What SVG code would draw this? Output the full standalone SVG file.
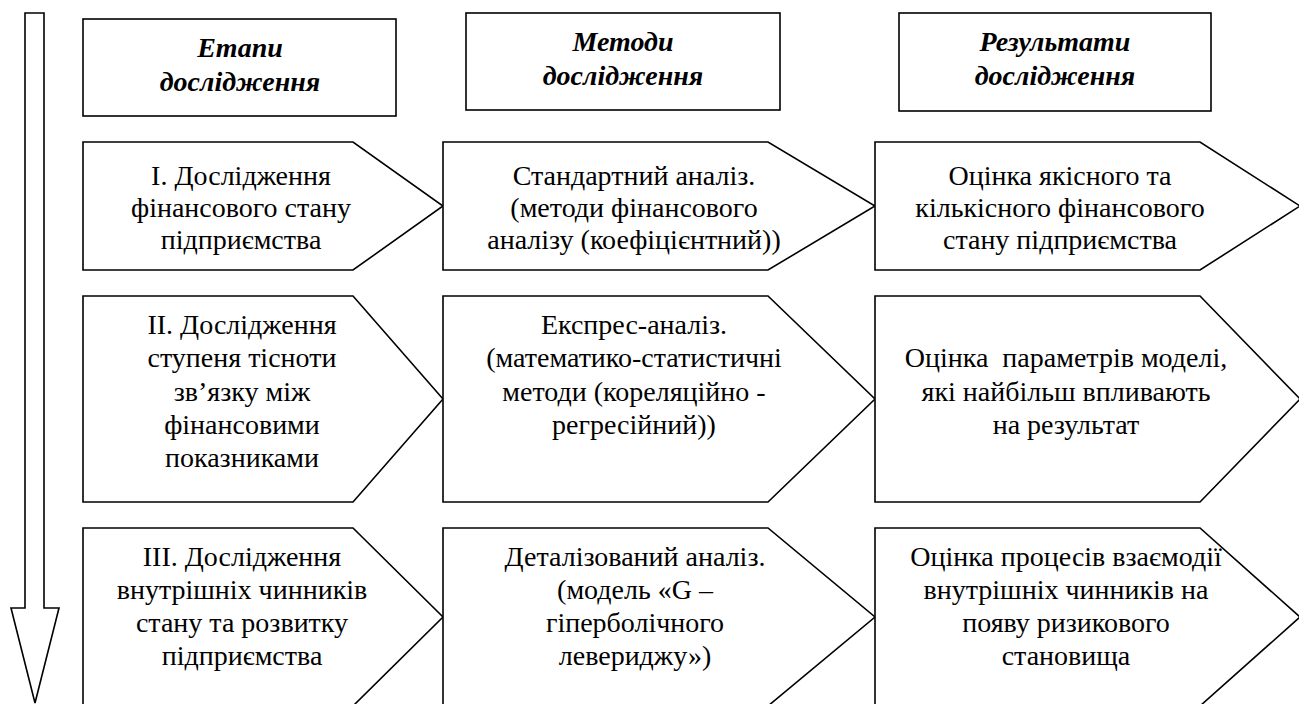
<svg xmlns="http://www.w3.org/2000/svg" width="1299" height="704" viewBox="0 0 1299 704">
  <style>
    .shape { fill: #ffffff; stroke: #000000; stroke-width: 1.6; stroke-linejoin: miter; }
    .head { font-size: 28px; font-weight: bold; font-style: italic; text-anchor: middle; fill: #000; }
    .body { font-size: 28px; text-anchor: middle; fill: #000; }
  </style>
  <rect width="1299" height="704" fill="#ffffff"/>

  <!-- progression arrow down the left side -->
  <g id="connectors">
    <polygon class="shape" points="25,13 44,13 44,608 59,608 35,703 11,608 25,608"/>
  </g>

  <!-- column headers -->
  <g id="hdr-stages">
    <rect class="shape" x="83" y="19" width="313" height="97"/>
    <text class="head" style="font-family:'Liberation Serif', serif" x="240" y="57">Етапи</text>
    <text class="head" style="font-family:'Liberation Serif', serif" x="240" y="91">дослідження</text>
  </g>
  <g id="hdr-methods">
    <rect class="shape" x="466" y="13" width="314" height="97"/>
    <text class="head" style="font-family:'Liberation Serif', serif" x="623" y="51">Методи</text>
    <text class="head" style="font-family:'Liberation Serif', serif" x="623" y="85">дослідження</text>
  </g>
  <g id="hdr-results">
    <rect class="shape" x="899" y="13" width="312" height="98"/>
    <text class="head" style="font-family:'Liberation Serif', serif" x="1055" y="51">Результати</text>
    <text class="head" style="font-family:'Liberation Serif', serif" x="1055" y="85">дослідження</text>
  </g>

  <!-- row I -->
  <g id="stage-1">
    <polygon class="shape" points="83,142 353,142 443,206 353,270 83,270"/>
    <text class="body" style="font-family:'Liberation Serif', serif" x="241" y="185">І. Дослідження</text>
    <text class="body" style="font-family:'Liberation Serif', serif" x="241" y="217">фінансового стану</text>
    <text class="body" style="font-family:'Liberation Serif', serif" x="241" y="249">підприємства</text>
  </g>
  <g id="method-1">
    <polygon class="shape" points="443,142 768,142 875,206 768,270 443,270"/>
    <text class="body" style="font-family:'Liberation Serif', serif" x="634" y="185">Стандартний аналіз.</text>
    <text class="body" style="font-family:'Liberation Serif', serif" x="634" y="217">(методи фінансового</text>
    <text class="body" style="font-family:'Liberation Serif', serif" x="634" y="249">аналізу (коефіцієнтний))</text>
  </g>
  <g id="result-1">
    <polygon class="shape" points="875,142 1200,142 1300,206 1200,270 875,270"/>
    <text class="body" style="font-family:'Liberation Serif', serif" x="1060" y="185">Оцінка якісного та</text>
    <text class="body" style="font-family:'Liberation Serif', serif" x="1060" y="217">кількісного фінансового</text>
    <text class="body" style="font-family:'Liberation Serif', serif" x="1060" y="249">стану підприємства</text>
  </g>

  <!-- row II -->
  <g id="stage-2">
    <polygon class="shape" points="83,296 353,296 443,399 353,502 83,502"/>
    <text class="body" style="font-family:'Liberation Serif', serif" x="242" y="334">ІІ. Дослідження</text>
    <text class="body" style="font-family:'Liberation Serif', serif" x="242" y="367">ступеня тісноти</text>
    <text class="body" style="font-family:'Liberation Serif', serif" x="242" y="401">зв’язку між</text>
    <text class="body" style="font-family:'Liberation Serif', serif" x="242" y="434">фінансовими</text>
    <text class="body" style="font-family:'Liberation Serif', serif" x="242" y="467">показниками</text>
  </g>
  <g id="method-2">
    <polygon class="shape" points="443,296 768,296 875,399 768,502 443,502"/>
    <text class="body" style="font-family:'Liberation Serif', serif" x="634" y="334">Експрес-аналіз.</text>
    <text class="body" style="font-family:'Liberation Serif', serif" x="634" y="367">(математико-статистичні</text>
    <text class="body" style="font-family:'Liberation Serif', serif" x="634" y="401">методи (кореляційно -</text>
    <text class="body" style="font-family:'Liberation Serif', serif" x="634" y="434">регресійний))</text>
  </g>
  <g id="result-2">
    <polygon class="shape" points="875,296 1200,296 1300,399 1200,502 875,502"/>
    <text class="body" style="font-family:'Liberation Serif', serif" x="1066" y="367" xml:space="preserve">Оцінка  параметрів моделі,</text>
    <text class="body" style="font-family:'Liberation Serif', serif" x="1066" y="401">які найбільш впливають</text>
    <text class="body" style="font-family:'Liberation Serif', serif" x="1066" y="434">на результат</text>
  </g>

  <!-- row III -->
  <g id="stage-3">
    <polygon class="shape" points="83,528 353,528 443,617 353,706 83,706"/>
    <text class="body" style="font-family:'Liberation Serif', serif" x="242" y="566">ІІІ. Дослідження</text>
    <text class="body" style="font-family:'Liberation Serif', serif" x="242" y="599">внутрішніх чинників</text>
    <text class="body" style="font-family:'Liberation Serif', serif" x="242" y="632">стану та розвитку</text>
    <text class="body" style="font-family:'Liberation Serif', serif" x="242" y="665">підприємства</text>
  </g>
  <g id="method-3">
    <polygon class="shape" points="443,528 768,528 875,617 768,706 443,706"/>
    <text class="body" style="font-family:'Liberation Serif', serif" x="635" y="566">Деталізований аналіз.</text>
    <text class="body" style="font-family:'Liberation Serif', serif" x="635" y="599">(модель «G –</text>
    <text class="body" style="font-family:'Liberation Serif', serif" x="635" y="632">гіперболічного</text>
    <text class="body" style="font-family:'Liberation Serif', serif" x="635" y="665">левериджу»)</text>
  </g>
  <g id="result-3">
    <polygon class="shape" points="875,528 1200,528 1300,617 1200,706 875,706"/>
    <text class="body" style="font-family:'Liberation Serif', serif" x="1066" y="566">Оцінка процесів взаємодії</text>
    <text class="body" style="font-family:'Liberation Serif', serif" x="1066" y="599">внутрішніх чинників на</text>
    <text class="body" style="font-family:'Liberation Serif', serif" x="1066" y="632">появу ризикового</text>
    <text class="body" style="font-family:'Liberation Serif', serif" x="1066" y="665">становища</text>
  </g>
</svg>
